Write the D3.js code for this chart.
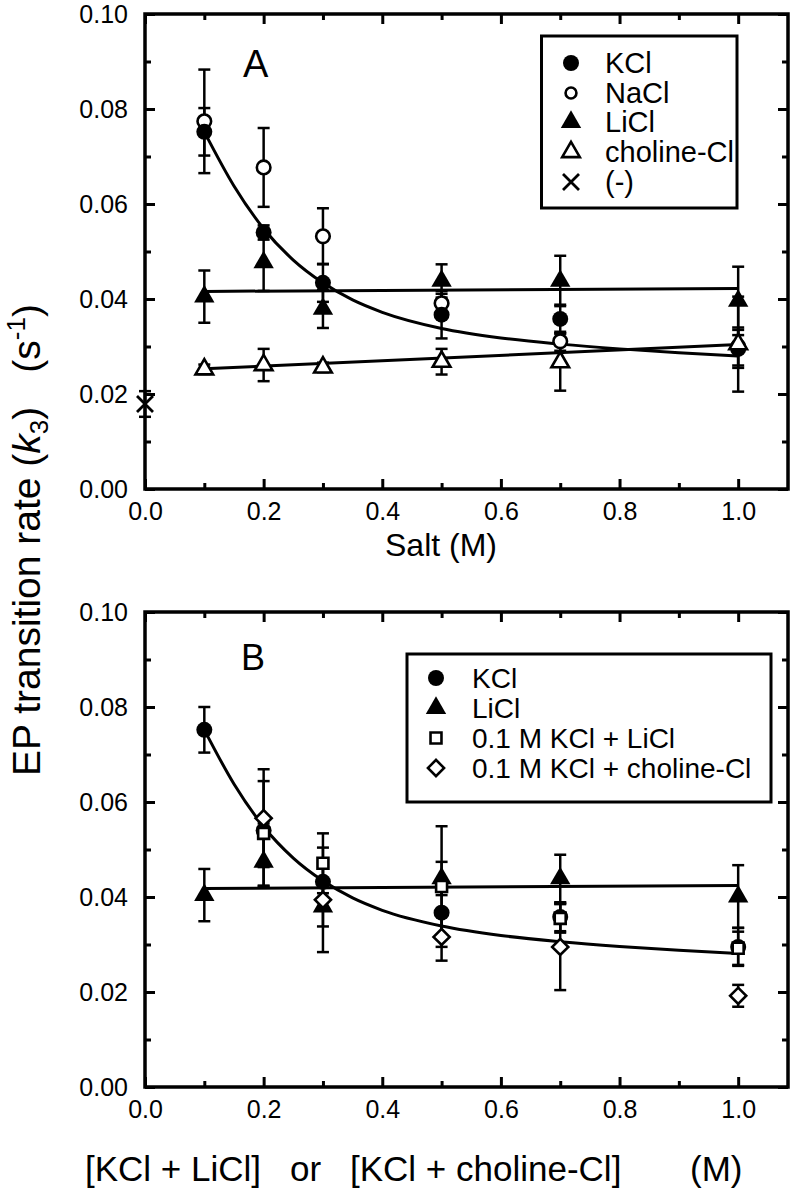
<!DOCTYPE html>
<html>
<head>
<meta charset="utf-8">
<script src="https://cdn.jsdelivr.net/npm/d3@7"></script>
<style>
  html, body { margin: 0; padding: 0; background: #fff; }
  svg { display: block; }
  text { font-family: "Liberation Sans", Arial, Helvetica, sans-serif; fill: #000; }
</style>
</head>
<body>
<svg id="chart" width="801" height="1204"></svg>
<script>
// ---------------- DATA ----------------
const saltX = [0.1, 0.2, 0.3, 0.5, 0.7, 1.0];

// Panel A
const kclA      = [0.0752, 0.0540, 0.0434, 0.0367, 0.0358, 0.0295];
const kclAErr   = [0.0050, 0.0015, 0.0040, 0.0050, 0.0030, 0.0040];
const naclA     = [0.0774, 0.0677, 0.0532, 0.0391, 0.0311, 0.0300];
const naclAErr  = [0.0109, 0.0083, 0.0059, 0.0020, 0.0020, 0.0040];
const liclA     = [0.0405, 0.0477, 0.0379, 0.0438, 0.0438, 0.0396];
const liclAErr  = [0.0055, 0.0060, 0.0040, 0.0035, 0.0053, 0.0072];
const cholA     = [0.0252, 0.0261, 0.0256, 0.0268, 0.0267, 0.0305];
const cholAErr  = [0.0010, 0.0034, 0.0010, 0.0027, 0.0060, 0.0100];
const noneX     = [0.0];
const noneA     = [0.0179];
const noneAErr  = [0.0027];

// Fitted curves, panel A
const kclFitX   = [0.1, 0.15, 0.2, 0.25, 0.3, 0.35, 0.4, 0.5, 0.6, 0.7, 0.8, 0.9, 1.0];
const kclFitA   = [0.0752, 0.0638, 0.0548, 0.0482, 0.0434, 0.0398, 0.0372, 0.0338, 0.0318, 0.0305, 0.0295, 0.0287, 0.0280];
const lineX     = [0.1, 1.0];
const liclFitA  = [0.0416, 0.0422];
const cholFitA  = [0.0253, 0.0304];

// Panel B
const kclB      = [0.0752, 0.0540, 0.0432, 0.0367, 0.0358, 0.0295];
const kclBErr   = [0.0048, 0.0015, 0.0040, 0.0050, 0.0030, 0.0040];
const liclB     = [0.0404, 0.0474, 0.0380, 0.0439, 0.0439, 0.0401];
const liclBErr  = [0.0055, 0.0052, 0.0042, 0.0035, 0.0050, 0.0066];
const mixX      = [0.2, 0.3, 0.5, 0.7, 1.0];
const kclLiB    = [0.0534, 0.0471, 0.0422, 0.0355, 0.0292];
const kclLiBErr = [0.0110, 0.0063, 0.0127, 0.0030, 0.0035];
const kclChB    = [0.0566, 0.0394, 0.0316, 0.0295, 0.0192];
const kclChBErr = [0.0103, 0.0110, 0.0050, 0.0091, 0.0023];

const kclFitB   = [0.0752, 0.0638, 0.0548, 0.0482, 0.0434, 0.0398, 0.0372, 0.0339, 0.0319, 0.0306, 0.0296, 0.0288, 0.0281];
const liclFitB  = [0.0418, 0.0424];

// Axis ticks
const xMajor = [0, 0.2, 0.4, 0.6, 0.8, 1.0];
const xMinor = [0.1, 0.3, 0.5, 0.7, 0.9];
const yMajor = [0, 0.02, 0.04, 0.06, 0.08, 0.10];
const yMinor = [0.01, 0.03, 0.05, 0.07, 0.09];

const legendA = ["KCl", "NaCl", "LiCl", "choline-Cl", "(-)"];
const legendB = ["KCl", "LiCl", "0.1 M KCl + LiCl", "0.1 M KCl + choline-Cl"];
const xTitleB = ["[KCl + LiCl]", "or", "[KCl + choline-Cl]", "(M)"];

// ---------------- LAYOUT ----------------
const svg = d3.select("#chart");
const L = 145, R = 788;
const x = d3.scaleLinear().domain([0, 1.084]).range([L, R]);
const panels = [
  { top: 14,  bottom: 489 },
  { top: 612, bottom: 1087 }
];
const yA = d3.scaleLinear().domain([0, 0.10]).range([panels[0].bottom, panels[0].top]);
const yB = d3.scaleLinear().domain([0, 0.10]).range([panels[1].bottom, panels[1].top]);

const fmtY = d3.format(".2f");
const fmtX = d3.format(".1f");

function drawAxes(y) {
  const [b, t] = y.range();
  const g = svg.append("g");
  const mk = (axis, tr) => {
    const a = g.append("g").attr("transform", tr).call(axis);
    a.select(".domain").remove();
    a.selectAll(".tick line").attr("stroke", "#000").attr("stroke-width", 3);
    return a;
  };
  const bot = mk(d3.axisBottom(x).tickValues(xMajor).tickSize(-10).tickPadding(13).tickFormat(fmtX), `translate(0,${b})`);
  mk(d3.axisBottom(x).tickValues(xMinor).tickSize(-6).tickFormat(""), `translate(0,${b})`);
  mk(d3.axisTop(x).tickValues(xMajor).tickSize(-10).tickFormat(""), `translate(0,${t})`);
  mk(d3.axisTop(x).tickValues(xMinor).tickSize(-6).tickFormat(""), `translate(0,${t})`);
  const lef = mk(d3.axisLeft(y).tickValues(yMajor).tickSize(-10).tickPadding(17).tickFormat(fmtY), `translate(${L},0)`);
  mk(d3.axisLeft(y).tickValues(yMinor).tickSize(-6).tickFormat(""), `translate(${L},0)`);
  mk(d3.axisRight(y).tickValues(yMajor).tickSize(-10).tickFormat(""), `translate(${R},0)`);
  mk(d3.axisRight(y).tickValues(yMinor).tickSize(-6).tickFormat(""), `translate(${R},0)`);
  [bot, lef].forEach(a => a.selectAll(".tick text")
      .attr("font-size", 25).attr("font-family", '"Liberation Sans", Arial, sans-serif').attr("fill", "#000"));
  g.append("rect").attr("x", L).attr("y", t).attr("width", R - L).attr("height", b - t)
    .attr("fill", "none").attr("stroke", "#000").attr("stroke-width", 3.5);
}

function drawLine(xs, ys, y, curve) {
  const line = d3.line().x((d, i) => x(xs[i])).y(d => y(d)).curve(curve || d3.curveLinear);
  svg.append("path").datum(ys).attr("d", line)
    .attr("fill", "none").attr("stroke", "#000").attr("stroke-width", 3);
}

function drawErr(xs, ys, es, y) {
  const g = svg.append("g").attr("stroke", "#000").attr("stroke-width", 2.5);
  ys.forEach((v, i) => {
    const cx = x(xs[i]), y1 = y(v + es[i]), y2 = y(v - es[i]);
    g.append("line").attr("x1", cx).attr("x2", cx).attr("y1", y1).attr("y2", y2);
    g.append("line").attr("x1", cx - 6).attr("x2", cx + 6).attr("y1", y1).attr("y2", y1);
    g.append("line").attr("x1", cx - 6).attr("x2", cx + 6).attr("y1", y2).attr("y2", y2);
  });
}

const markers = {
  fcircle: (g, cx, cy, s) => g.append("circle").attr("cx", cx).attr("cy", cy).attr("r", 8 * s).attr("fill", "#000"),
  ocircle: (g, cx, cy, s) => g.append("circle").attr("cx", cx).attr("cy", cy).attr("r", 6.8 * s)
              .attr("fill", "#fff").attr("stroke", "#000").attr("stroke-width", 2.6),
  ftri: (g, cx, cy, s) => g.append("path").attr("transform", `translate(${cx},${cy})`)
              .attr("d", d3.symbol(d3.symbolTriangle, 180 * s * s)()).attr("fill", "#000"),
  otri: (g, cx, cy, s) => g.append("path").attr("transform", `translate(${cx},${cy})`)
              .attr("d", d3.symbol(d3.symbolTriangle, 135 * s * s)())
              .attr("fill", "#fff").attr("stroke", "#000").attr("stroke-width", 2.6),
  osquare: (g, cx, cy, s) => g.append("path").attr("transform", `translate(${cx},${cy})`)
              .attr("d", d3.symbol(d3.symbolSquare, 120 * s * s)())
              .attr("fill", "#fff").attr("stroke", "#000").attr("stroke-width", 2.6),
  odiamond: (g, cx, cy, s) => g.append("path").attr("transform", `translate(${cx},${cy}) rotate(45)`)
              .attr("d", d3.symbol(d3.symbolSquare, 130 * s * s)())
              .attr("fill", "#fff").attr("stroke", "#000").attr("stroke-width", 2.6),
  times: (g, cx, cy, s) => g.append("path").attr("transform", `translate(${cx},${cy}) scale(${s})`)
              .attr("d", `M-8,-8L8,8M-8,8L8,-8`).attr("fill", "none").attr("stroke", "#000").attr("stroke-width", 2.8)
};

function drawPts(xs, ys, y, kind) {
  const g = svg.append("g");
  ys.forEach((v, i) => markers[kind](g, x(xs[i]), y(v), 1));
}

function drawLegend(box, rows, kinds, mx, tx, rowY, fs) {
  svg.append("rect").attr("x", box[0]).attr("y", box[1]).attr("width", box[2] - box[0]).attr("height", box[3] - box[1])
    .attr("fill", "#fff").attr("stroke", "#000").attr("stroke-width", 3);
  const g = svg.append("g");
  rows.forEach((r, i) => {
    markers[kinds[i]](g, mx, rowY[i], kinds[i] === "ocircle" ? 0.8 : 1);
    g.append("text").attr("x", tx).attr("y", rowY[i]).attr("dy", "0.36em").attr("font-size", fs).text(r);
  });
}

// ---------------- PANEL A ----------------
drawAxes(yA);
drawLine(kclFitX, kclFitA, yA, d3.curveMonotoneX);
drawLine(lineX, liclFitA, yA);
drawLine(lineX, cholFitA, yA);
drawErr(saltX, naclA, naclAErr, yA);
drawErr(saltX, kclA, kclAErr, yA);
drawErr(saltX, liclA, liclAErr, yA);
drawErr(saltX, cholA, cholAErr, yA);
drawErr(noneX, noneA, noneAErr, yA);
drawPts(saltX, naclA, yA, "ocircle");
drawPts(saltX, kclA, yA, "fcircle");
drawPts(saltX, liclA, yA, "ftri");
drawPts(saltX, cholA, yA, "otri");
drawPts(noneX, noneA, yA, "times");
svg.append("text").attr("x", 243).attr("y", 77).attr("font-size", 38).text("A");
drawLegend([541.5, 36, 737, 208], legendA, ["fcircle", "ocircle", "ftri", "otri", "times"], 571, 605,
           [63, 93, 122, 152, 182], 29);
svg.append("text").attr("x", 441).attr("y", 556).attr("text-anchor", "middle").attr("font-size", 32).text("Salt (M)");

// ---------------- PANEL B ----------------
drawAxes(yB);
drawLine(kclFitX, kclFitB, yB, d3.curveMonotoneX);
drawLine(lineX, liclFitB, yB);
drawErr(saltX, kclB, kclBErr, yB);
drawErr(saltX, liclB, liclBErr, yB);
drawErr(mixX, kclLiB, kclLiBErr, yB);
drawErr(mixX, kclChB, kclChBErr, yB);
drawPts(saltX, kclB, yB, "fcircle");
drawPts(saltX, liclB, yB, "ftri");
drawPts(mixX, kclLiB, yB, "osquare");
drawPts(mixX, kclChB, yB, "odiamond");
svg.append("text").attr("x", 241).attr("y", 670).attr("font-size", 36).text("B");
drawLegend([407, 654, 771, 802], legendB, ["fcircle", "ftri", "osquare", "odiamond"], 436, 472,
           [678, 708, 738, 768], 28);
const xtB = svg.append("text").attr("y", 1181).attr("font-size", 35);
const xtBPos = [85, 290, 350, 690];
xTitleB.forEach((s, i) => xtB.append("tspan").attr("x", xtBPos[i]).text(s));

// ---------------- Y TITLE ----------------
const yt = svg.append("text").attr("transform", "translate(40,540) rotate(-90)")
  .attr("text-anchor", "middle").attr("font-size", 39).style("white-space", "pre");
yt.append("tspan").text("EP transition rate (");
yt.append("tspan").attr("font-style", "italic").text("k");
yt.append("tspan").attr("font-size", 26).attr("dy", 8).text("3");
yt.append("tspan").attr("dy", -8).text(")");
yt.append("tspan").attr("dx", 34).text("(s");
yt.append("tspan").attr("font-size", 26).attr("dy", -15).text("-1");
yt.append("tspan").attr("dy", 15).text(")");
</script>
</body>
</html>
